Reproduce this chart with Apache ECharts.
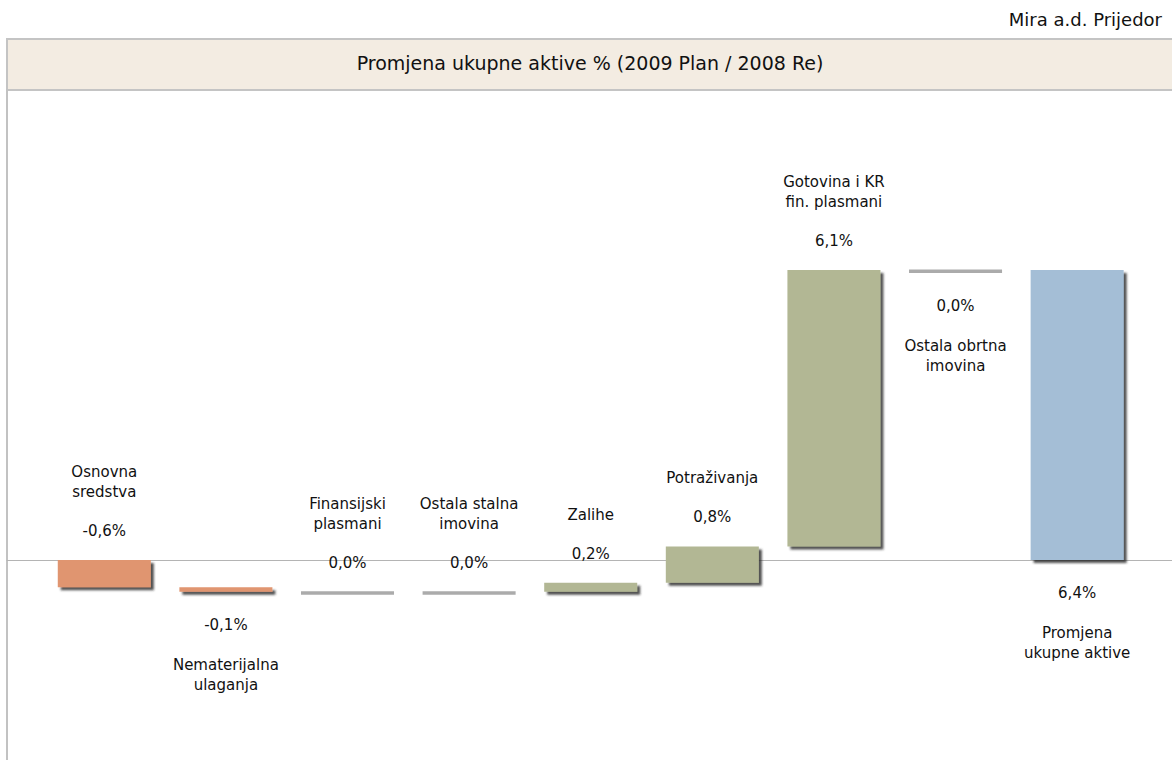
<!DOCTYPE html>
<html>
<head>
<meta charset="utf-8">
<script src="https://cdn.jsdelivr.net/npm/echarts@6/dist/echarts.min.js"></script>
<style>
  html, body { margin: 0; padding: 0; background: #fff; }
  #chart { width: 1172px; height: 760px; }
</style>
</head>
<body>
<div id="chart"></div>
<script>
// categories and changes (% points of total assets)
const categories = [
    "Osnovna\nsredstva",
    "Nematerijalna\nulaganja",
    "Finansijski\nplasmani",
    "Ostala stalna\nimovina",
    "Zalihe",
    "Potraživanja",
    "Gotovina i KR\nfin. plasmani",
    "Ostala obrtna\nimovina",
    "Promjena\nukupne aktive",
];
const changes = [-0.6, -0.1, 0.0, 0.0, 0.2, 0.8, 6.1, 0.0];
const total = 6.4;

const chart_title = "Promjena ukupne aktive % (2009 Plan / 2008 Re)";
const company = "Mira a.d. Prijedor";

const color_neg = "#E0956F";
const color_pos = "#B2B794";
const color_total = "#A4BED6";
const color_zero = "#ABABAB";
const label_font = '15px "DejaVu Sans"';

// labels under the bar instead of over it
const below = new Set([1, 7, 8]);

// build [index, from, to, value] for the waterfall
let bars = [];
let run = 0;
changes.forEach((v, i) => {
    bars.push([i, run, run + v, v]);
    run += v;
});
bars.push([changes.length, 0, total, total]);

function fmt(v) {
    return v.toFixed(1).replace(".", ",") + "%";
}

function renderItem(params, api) {
    const i = api.value(0);
    const a = api.value(1);
    const b = api.value(2);
    const v = api.value(3);
    const w = api.size([1, 0])[0] * 0.765;
    const top = api.coord([i, Math.max(a, b)]);
    const bot = api.coord([i, Math.min(a, b)]);
    let h = bot[1] - top[1];
    let fill;
    if (i === categories.length - 1) fill = color_total;
    else if (Math.abs(v) < 1e-9) fill = color_zero;
    else if (v < 0) fill = color_neg;
    else fill = color_pos;
    let children = [];
    if (h < 1) {
        children.push({
            type: "rect",
            shape: { x: top[0] - w / 2, y: top[1] - 0.5, width: w, height: 3.5 },
            style: { fill: color_zero },
        });
        h = 3;
    } else {
        children.push({
            type: "rect",
            shape: { x: top[0] - w / 2, y: top[1], width: w, height: h },
            style: {
                fill: fill,
                shadowBlur: 2,
                shadowOffsetX: 3,
                shadowOffsetY: 3,
                shadowColor: "rgba(40, 40, 40, 0.8)",
            },
        });
    }
    const x = top[0];
    if (below.has(i)) {
        const vy = top[1] + h + 33;
        children.push({
            type: "text",
            style: { text: fmt(v), x: x, y: vy, align: "center", verticalAlign: "middle", font: label_font, fill: "#111" },
        });
        children.push({
            type: "text",
            style: { text: categories[i], x: x, y: vy + 30, align: "center", verticalAlign: "top", font: label_font, lineHeight: 20, fill: "#111" },
        });
    } else {
        const vy = top[1] - 29;
        children.push({
            type: "text",
            style: { text: fmt(v), x: x, y: vy, align: "center", verticalAlign: "middle", font: label_font, fill: "#111" },
        });
        children.push({
            type: "text",
            style: { text: categories[i], x: x, y: vy - 29, align: "center", verticalAlign: "bottom", font: label_font, lineHeight: 20, fill: "#111" },
        });
    }
    return { type: "group", children: children };
}

const chart = echarts.init(document.getElementById("chart"), null, { renderer: "svg" });
const option = {
    animation: false,
    backgroundColor: "#fff",
    title: [
        {
            text: chart_title,
            left: 590,
            textAlign: "center",
            top: 53,
            padding: 0,
            z: 10,
            textStyle: { fontFamily: "DejaVu Sans", fontSize: 19, fontWeight: "normal", color: "#111" },
        },
        {
            text: company,
            right: 10,
            top: 10,
            padding: 0,
            z: 10,
            textStyle: { fontFamily: "DejaVu Sans", fontSize: 18, fontWeight: "normal", color: "#111" },
        },
    ],
    graphic: [
        {
            type: "rect",
            z: 0,
            shape: { x: 7, y: 39, width: 1200, height: 51 },
            style: { fill: "#F3ECE2", stroke: "#C4C4C4", lineWidth: 2 },
        },
    ],
    grid: { left: 7, right: 0, top: 90, bottom: 0 },
    xAxis: {
        type: "value",
        min: -0.8,
        max: 8.78,
        axisLine: { show: true, onZero: true, lineStyle: { color: "#B4B4B4", width: 1 } },
        axisTick: { show: false },
        axisLabel: { show: false },
        splitLine: { show: false },
    },
    yAxis: {
        type: "value",
        min: -4.41,
        max: 10.37,
        axisLine: { show: true, onZero: false, lineStyle: { color: "#C2C2C2", width: 2 } },
        axisTick: { show: false },
        axisLabel: { show: false },
        splitLine: { show: false },
    },
    series: [
        {
            type: "custom",
            renderItem: renderItem,
            data: bars,
            encode: { x: 0, y: [1, 2] },
            clip: false,
        },
    ],
};
chart.setOption(option);
</script>
</body>
</html>
